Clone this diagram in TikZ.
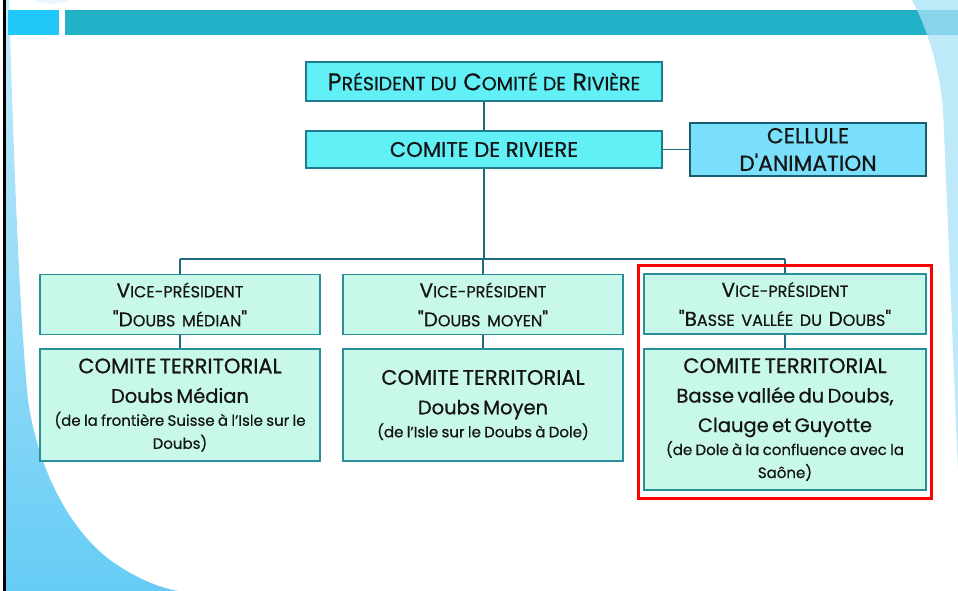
\documentclass[tikz,border=0pt]{standalone}
\usepackage{fontspec}
\setmainfont{Poppins}[FakeBold=0.6]
\usetikzlibrary{fit}
\definecolor{barteal}{HTML}{22B2C8}
\definecolor{barlight}{HTML}{22C8FA}
\definecolor{cyanfill}{HTML}{62F0F7}
\definecolor{cyanedge}{HTML}{1F7E8E}
\definecolor{cellfill}{HTML}{7ADFFB}
\definecolor{celledge}{HTML}{185E72}
\definecolor{mintfill}{HTML}{C8F8EA}
\definecolor{mintedge}{HTML}{2B8F9A}
\definecolor{linkcol}{HTML}{1C6B7E}
\definecolor{textcol}{HTML}{141414}
\definecolor{waveup}{HTML}{C4EBF9}
\definecolor{wavedown}{HTML}{66CCF5}
\definecolor{waveright}{HTML}{A8E2F8}
\definecolor{faintcirc}{HTML}{EAF8FD}
\newcommand{\lowcap}[2]{{\fontsize{#1}{#1}\selectfont #2}}
\newcommand{\capct}{\fontsize{21}{29}\selectfont}
\newcommand{\bigct}{\fontsize{19.5}{29.5}\selectfont}
\newcommand{\smallct}{\fontsize{15}{23}\selectfont}
\begin{document}
\begin{tikzpicture}[x=1pt, y=-1pt,
  headbox/.style={draw=cyanedge, fill=cyanfill, line width=1.5pt, inner sep=0pt,
    minimum width=356pt, text=textcol, align=center},
  cellbox/.style={draw=celledge, fill=cellfill, line width=1.5pt, inner sep=0pt,
    minimum width=236pt, minimum height=53pt, text width=236pt, text=textcol, align=center,
    font=\fontsize{21.8}{27.5}\selectfont},
  vpbox/.style={draw=mintedge, fill=mintfill, line width=1.5pt, inner sep=0pt,
    minimum width=280pt, minimum height=60pt, text width=280pt, text=textcol, align=center,
    font=\fontsize{20}{29}\selectfont},
  ctbox/.style={draw=mintedge, fill=mintfill, line width=1.5pt, inner sep=0pt,
    minimum width=280pt, minimum height=112pt, text width=280pt, text=textcol, align=center},
  link/.style={draw=linkcol, line width=1.6pt},
  highlight/.style={draw=red, line width=3pt, inner xsep=5pt, inner ysep=8pt}]

\useasboundingbox (0,0) rectangle (958,591);
\fill[white] (0,0) rectangle (958,591);

\fill[faintcirc] (52,-41) circle (45);
\shade[top color=waveup, bottom color=wavedown]
  (6,0) -- (9,0) .. controls (12,100) and (18,300) .. (28,400)
  .. controls (38,470) and (70,530) .. (110,560)
  .. controls (135,578) and (160,588) .. (178,591) -- (6,591) -- cycle;
\fill[black] (3,0) rectangle (6,591);
\fill[barlight] (8,10) rectangle (59,35);
\fill[barteal] (65,10) rectangle (958,35);
\fill[waveright, opacity=0.75]
  (912,0) .. controls (928,30) and (940,70) .. (943,110)
  .. controls (948,220) and (954,380) .. (958,470) -- (958,0) -- cycle;

\node[headbox, minimum height=39pt, font=\fontsize{24}{25}\selectfont] (pres) at (484,81.5)
  {P\lowcap{19}{RÉSIDENT DU} C\lowcap{19}{OMITÉ DE} R\lowcap{19}{IVIÈRE}};
\node[headbox, minimum height=37pt, font=\fontsize{21.2}{25}\selectfont] (comite) at (484,149.5)
  {COMITE DE RIVIERE};
\node[cellbox] (cellule) at (808,149.5) {CELLULE\\D\textquotesingle ANIMATION};

\node[vpbox] (vp1) at (180,304.5)
  {V\lowcap{16}{ICE-PRÉSIDENT}\\\textquotedbl D\lowcap{16}{OUBS MÉDIAN}\textquotedbl};
\node[vpbox] (vp2) at (483,304.5)
  {V\lowcap{16}{ICE-PRÉSIDENT}\\\textquotedbl D\lowcap{16}{OUBS MOYEN}\textquotedbl};
\node[vpbox] (vp3) at (785,304) [minimum width=282pt, text width=282pt]
  {V\lowcap{16}{ICE-PRÉSIDENT}\\\textquotedbl B\lowcap{16}{ASSE VALLÉE DU} D\lowcap{16}{OUBS}\textquotedbl};

\node[ctbox] (ct1) at (180,405)
  {{\capct COMITE TERRITORIAL\par}{\bigct Doubs Médian\par}{\smallct (de la frontière Suisse à l’Isle sur le\\Doubs)\par}};
\node[ctbox] (ct2) at (483,405)
  {{\capct COMITE TERRITORIAL\par}{\bigct Doubs Moyen\par}{\smallct (de l’Isle sur le Doubs à Dole)\par}};
\node[ctbox] (ct3) at (785,419.5) [minimum width=282pt, text width=282pt, minimum height=141pt]
  {{\capct COMITE TERRITORIAL\par}{\bigct Basse vallée du Doubs,\\Clauge et Guyotte\par}{\smallct (de Dole à la confluence avec la\\Saône)\par}};

\coordinate (bus) at (484,259);

\draw[link] (pres.south) -- (comite.north);
\draw[link] (comite.east) -- (cellule.west);
\draw[link] (comite.south) -- (bus);
\draw[link] (vp1.north |- bus) -- (vp3.north |- bus);
\draw[link] (vp1.north |- bus) -- (vp1.north);
\draw[link] (vp2.north |- bus) -- (vp2.north);
\draw[link] (vp3.north |- bus) -- (vp3.north);
\draw[link] (vp1.south) -- (ct1.north);
\draw[link] (vp2.south) -- (ct2.north);
\draw[link] (vp3.south) -- (ct3.north);

\node[highlight, fit=(vp3)(ct3)] (focus) {};

\end{tikzpicture}
\end{document}
